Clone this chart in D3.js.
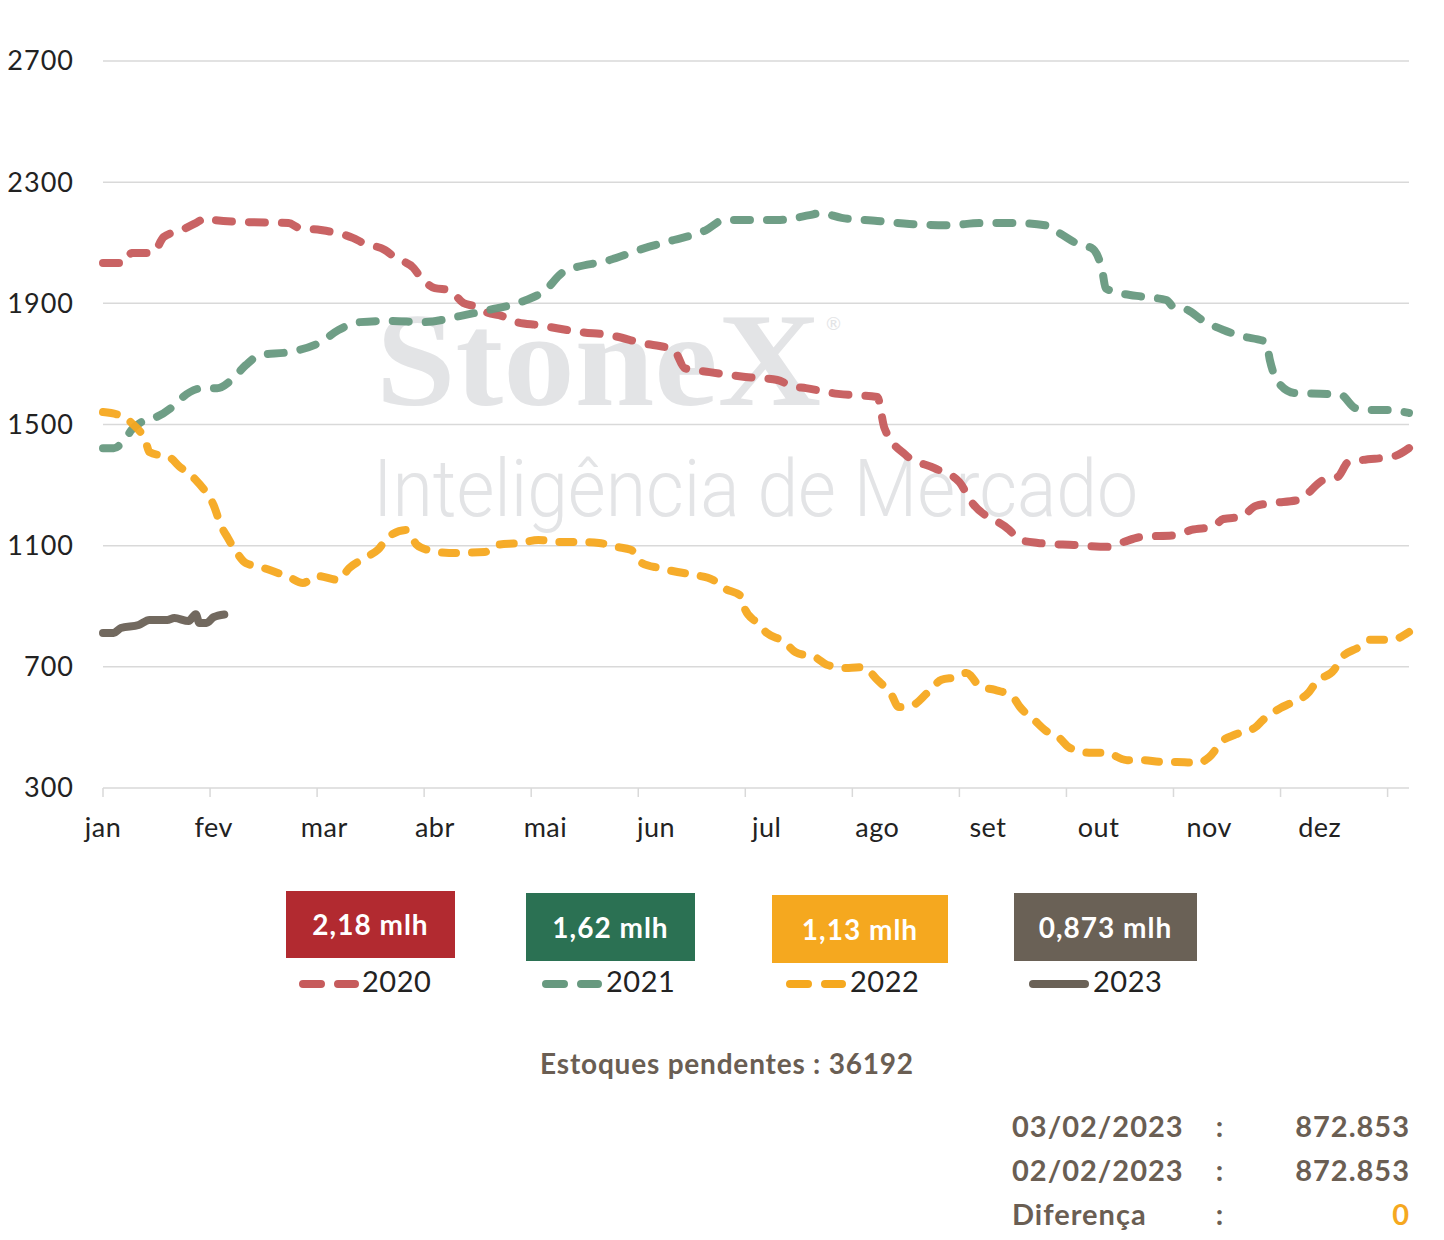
<!DOCTYPE html>
<html>
<head>
<meta charset="utf-8">
<script src="https://cdn.jsdelivr.net/npm/d3@7"></script>
<style>
  html, body { margin: 0; padding: 0; background: #fff; }
  svg { display: block; }
</style>
</head>
<body>
<svg id="chart" width="1444" height="1240"></svg>
<script>
// ---------- DATA ----------
const monthLabels = ["jan","fev","mar","abr","mai","jun","jul","ago","set","out","nov","dez"];
const yTickValues = [300, 700, 1100, 1500, 1900, 2300, 2700];
const years = ["2020", "2021", "2022", "2023"];
const badgeLabels = ["2,18 mlh", "1,62 mlh", "1,13 mlh", "0,873 mlh"];

const days2020 = [0,6,8,14,17,22,26,29,31,41,52,55,61,70,73,79,82,87,89,93,97,101,104,108,111,116,122,134,142,151,160,163,170,180,189,193,197,206,217,219,225,233,240,243,254,257,262,272,282,286,291,301,305,311,314,319,323,328,335,342,346,349,353,362,366];
const values2020 = [2033,2033,2066,2066,2119,2142,2165,2182,2175,2168,2165,2149,2142,2116,2099,2076,2050,2017,1987,1950,1944,1901,1891,1868,1861,1838,1828,1805,1795,1769,1746,1686,1673,1657,1647,1627,1620,1601,1591,1488,1399,1356,1310,1251,1152,1119,1109,1102,1096,1112,1129,1135,1152,1162,1188,1195,1231,1241,1251,1317,1327,1376,1383,1396,1422];

const days2021 = [0,3,6,8,12,15,20,22,28,32,36,40,44,52,61,66,72,80,90,100,108,117,124,129,142,152,160,169,174,180,189,198,201,207,217,226,237,246,256,264,268,274,277,280,281,284,292,298,300,304,308,314,319,326,327,330,334,343,347,351,355,360,366];
const values2021 = [1422,1422,1449,1482,1515,1525,1564,1587,1620,1620,1647,1696,1729,1739,1772,1812,1838,1842,1838,1858,1878,1904,1944,2003,2043,2083,2109,2142,2175,2175,2175,2191,2198,2182,2172,2162,2158,2165,2165,2158,2132,2092,2083,2010,1950,1937,1921,1911,1888,1878,1845,1812,1792,1772,1713,1630,1604,1601,1597,1554,1548,1548,1538];

const days2022 = [0,6,8,12,13,19,21,26,28,31,33,35,37,40,44,49,52,56,60,66,69,74,77,80,85,88,91,97,107,110,117,122,128,134,139,144,148,151,156,161,166,171,174,179,180,183,186,191,194,200,203,209,213,217,221,223,227,231,235,239,242,246,250,255,257,261,264,268,271,277,281,287,291,297,301,307,310,314,317,323,325,330,333,338,340,345,347,352,355,361,366];
const values2022 = [1541,1525,1505,1442,1409,1389,1366,1317,1290,1234,1168,1125,1086,1043,1030,1010,997,977,1000,987,1026,1063,1086,1129,1152,1102,1086,1076,1079,1102,1109,1119,1112,1112,1109,1096,1086,1043,1026,1013,1003,987,960,931,888,848,812,782,749,729,706,696,699,657,607,567,574,614,657,666,680,633,624,600,567,524,491,465,432,416,416,392,392,386,386,383,402,458,475,501,524,564,581,617,650,690,729,765,789,789,815];

const days2023 = [0,3,5,10,13,18,20,24,26,27,29,31,34];
const values2023 = [812,812,828,838,855,855,861,851,874,845,845,864,873];

const seriesColors = ["#c65b5c", "#67997f", "#f5a81f", "#6a6156"];
const badgeColors = ["#b22a30", "#2b7153", "#f5a81f", "#6a6156"];

// ---------- CHART ----------
const svg = d3.select("#chart");
const font = "Lato, 'Noto Sans', sans-serif";

const x = d3.scaleLinear().domain([0, 366]).range([103, 1409]);
const y = d3.scaleLinear().domain([300, 2700]).range([788, 61]);

// gridlines
svg.append("g")
  .selectAll("line")
  .data(yTickValues)
  .join("line")
  .attr("x1", x(0)).attr("x2", x(366))
  .attr("y1", d => y(d)).attr("y2", d => y(d))
  .attr("stroke", "#d9d9d9").attr("stroke-width", 1.5);

// y labels
svg.append("g")
  .selectAll("text")
  .data(yTickValues)
  .join("text")
  .attr("x", 74).attr("y", d => y(d))
  .attr("dy", "0.35em")
  .attr("text-anchor", "end")
  .attr("font-family", font).attr("font-size", 27)
  .attr("letter-spacing", 1)
  .attr("fill", "#222")
  .text(d => d);

// x axis ticks every 30 days
const xTicks = d3.range(0, 366, 30);
svg.append("g")
  .selectAll("line")
  .data(xTicks)
  .join("line")
  .attr("x1", d => x(d)).attr("x2", d => x(d))
  .attr("y1", y(300)).attr("y2", y(300) + 9)
  .attr("stroke", "#d9d9d9").attr("stroke-width", 1.5);

// month labels every 31 days
svg.append("g")
  .selectAll("text")
  .data(monthLabels)
  .join("text")
  .attr("x", (d, i) => x(i * 31))
  .attr("y", 828)
  .attr("dy", "0.35em")
  .attr("text-anchor", "middle")
  .attr("font-family", font).attr("font-size", 27)
  .attr("letter-spacing", 0.5)
  .attr("fill", "#222")
  .text(d => d);

// watermark
svg.append("text")
  .attr("x", 376).attr("y", 405)
  .attr("font-family", "'Liberation Serif', 'DejaVu Serif', serif")
  .attr("font-weight", "bold")
  .attr("font-size", 134)
  .attr("textLength", 445)
  .attr("lengthAdjust", "spacingAndGlyphs")
  .attr("fill", "#e3e4e6")
  .text("StoneX");
svg.append("text")
  .attr("x", 826).attr("y", 330)
  .attr("font-family", font).attr("font-size", 18)
  .attr("fill", "#e3e4e6")
  .text("®");
svg.append("text")
  .attr("x", 373).attr("y", 516)
  .attr("font-family", "Roboto, Lato, sans-serif")
  .attr("font-weight", 300)
  .attr("font-size", 80)
  .attr("textLength", 765)
  .attr("lengthAdjust", "spacingAndGlyphs")
  .attr("fill", "#e3e4e6")
  .text("Inteligência de Mercado");

// lines
const line = d3.line()
  .x(d => x(d[0]))
  .y(d => y(d[1]))
  .curve(d3.curveMonotoneX);

const seriesData = [
  d3.zip(days2020, values2020),
  d3.zip(days2021, values2021),
  d3.zip(days2022, values2022),
  d3.zip(days2023, values2023)
];
const dashes = ["16,17", "16,17", "14,16", null];

svg.append("g")
  .selectAll("path")
  .data(seriesData)
  .join("path")
  .attr("d", line)
  .attr("fill", "none")
  .attr("stroke", (d, i) => seriesColors[i])
  .attr("stroke-width", 8)
  .attr("stroke-linecap", "round")
  .attr("stroke-linejoin", "round")
  .attr("stroke-dasharray", (d, i) => dashes[i])
  .attr("opacity", 0.95);

// badges
const badges = [
  {x: 286, y: 891, w: 169, h: 67},
  {x: 526, y: 893, w: 169, h: 68},
  {x: 772, y: 895, w: 176, h: 68},
  {x: 1014, y: 893, w: 183, h: 68}
];
const legendItems = [
  {lx: 303, tx: 362},
  {lx: 546, tx: 606},
  {lx: 790, tx: 850},
  {lx: 1033, tx: 1093}
];
const bg = svg.append("g");
bg.selectAll("rect")
  .data(badges)
  .join("rect")
  .attr("x", d => d.x).attr("y", d => d.y)
  .attr("width", d => d.w).attr("height", d => d.h)
  .attr("fill", (d, i) => badgeColors[i]);
bg.selectAll("text")
  .data(badges)
  .join("text")
  .attr("x", d => d.x + d.w / 2).attr("y", d => d.y + d.h / 2 + 1)
  .attr("dy", "0.35em")
  .attr("text-anchor", "middle")
  .attr("font-family", font).attr("font-weight", "bold").attr("font-size", 28)
  .attr("letter-spacing", 1)
  .attr("fill", "#fff")
  .text((d, i) => badgeLabels[i]);

// legend entries
const lg = svg.append("g");
lg.selectAll("line")
  .data(legendItems)
  .join("line")
  .attr("x1", d => d.lx).attr("x2", d => d.lx + 52)
  .attr("y1", 984).attr("y2", 984)
  .attr("stroke", (d, i) => seriesColors[i])
  .attr("stroke-width", 8)
  .attr("stroke-linecap", "round")
  .attr("stroke-dasharray", (d, i) => i < 3 ? "18,17" : null);
lg.selectAll("text")
  .data(legendItems)
  .join("text")
  .attr("x", d => d.tx).attr("y", 982)
  .attr("dy", "0.35em")
  .attr("font-family", font).attr("font-size", 29)
  .attr("letter-spacing", 0.5)
  .attr("fill", "#222")
  .text((d, i) => years[i]);

// footer
const brown = "#6a5e53";
svg.append("text")
  .attr("x", 727).attr("y", 1064)
  .attr("dy", "0.35em")
  .attr("text-anchor", "middle")
  .attr("font-family", font).attr("font-weight", "bold").attr("font-size", 28)
  .attr("letter-spacing", 0.8)
  .attr("fill", brown)
  .text("Estoques pendentes :  36192");

const tableRows = [
  {label: "03/02/2023", value: "872.853", color: brown},
  {label: "02/02/2023", value: "872.853", color: brown},
  {label: "Diferença", value: "0", color: "#f5a81f"}
];
const tg = svg.append("g")
  .attr("font-family", font).attr("font-weight", "bold").attr("font-size", 29)
  .attr("letter-spacing", 1)
  .attr("fill", brown);
tableRows.forEach((r, i) => {
  const yy = 1127 + i * 44;
  tg.append("text").attr("x", 1012).attr("y", yy).attr("dy", "0.35em").text(r.label);
  tg.append("text").attr("x", 1220).attr("y", yy).attr("dy", "0.35em").attr("text-anchor", "middle").text(":");
  tg.append("text").attr("x", 1410).attr("y", yy).attr("dy", "0.35em").attr("text-anchor", "end")
    .attr("fill", r.color).text(r.value);
});
</script>
</body>
</html>
